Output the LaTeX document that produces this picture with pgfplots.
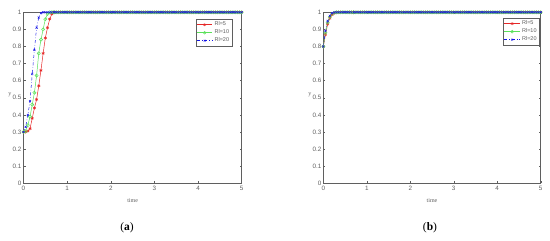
\documentclass[border=0pt]{standalone}
\usepackage{pgfplots}
\usepackage{pgfplotstable}
\pgfplotsset{compat=1.18}
\usepackage{fontspec}
\setmainfont{Liberation Serif}
\setsansfont{Liberation Sans}

\pgfplotstableread{
t r g b
0.00 0.300 0.300 0.300
0.05 0.300 0.305 0.330
0.10 0.305 0.340 0.400
0.15 0.320 0.390 0.480
0.20 0.380 0.460 0.640
0.25 0.440 0.530 0.780
0.30 0.490 0.630 0.910
0.35 0.570 0.760 0.970
0.40 0.660 0.840 0.995
0.45 0.760 0.900 1.000
0.50 0.850 0.960 1.000
0.55 0.910 0.990 1.000
0.60 0.960 1.000 1.000
0.65 0.990 1.000 1.000
0.70 1.000 1.000 1.000
}\riseA

\pgfplotstableread{
t r g b
0.00 0.800 0.800 0.800
0.05 0.870 0.880 0.890
0.10 0.930 0.940 0.950
0.15 0.965 0.972 0.980
0.20 0.985 0.990 0.995
0.25 0.995 0.997 0.999
0.30 0.999 1.000 1.000
0.35 1.000 1.000 1.000
0.40 1.000 1.000 1.000
0.45 1.000 1.000 1.000
0.50 1.000 1.000 1.000
0.55 1.000 1.000 1.000
0.60 1.000 1.000 1.000
0.65 1.000 1.000 1.000
0.70 1.000 1.000 1.000
}\riseB

\pgfplotstableread{
t y
0.70 1
0.75 1
0.80 1
0.85 1
0.90 1
0.95 1
1.00 1
1.05 1
1.10 1
1.15 1
1.20 1
1.25 1
1.30 1
1.35 1
1.40 1
1.45 1
1.50 1
1.55 1
1.60 1
1.65 1
1.70 1
1.75 1
1.80 1
1.85 1
1.90 1
1.95 1
2.00 1
2.05 1
2.10 1
2.15 1
2.20 1
2.25 1
2.30 1
2.35 1
2.40 1
2.45 1
2.50 1
2.55 1
2.60 1
2.65 1
2.70 1
2.75 1
2.80 1
2.85 1
2.90 1
2.95 1
3.00 1
3.05 1
3.10 1
3.15 1
3.20 1
3.25 1
3.30 1
3.35 1
3.40 1
3.45 1
3.50 1
3.55 1
3.60 1
3.65 1
3.70 1
3.75 1
3.80 1
3.85 1
3.90 1
3.95 1
4.00 1
4.05 1
4.10 1
4.15 1
4.20 1
4.25 1
4.30 1
4.35 1
4.40 1
4.45 1
4.50 1
4.55 1
4.60 1
4.65 1
4.70 1
4.75 1
4.80 1
4.85 1
4.90 1
4.95 1
5.00 1
}\flat

\definecolor{mred}{RGB}{230,40,40}
\definecolor{mgreen}{RGB}{90,225,90}
\definecolor{mblue}{RGB}{20,20,230}
\definecolor{axgray}{RGB}{95,95,95}

\begin{document}
\begin{tikzpicture}
\useasboundingbox (0pt,0pt) rectangle (550pt,241pt);
\pgfplotsset{
  myax/.style={
    scale only axis, height=171pt,
    xmin=0, xmax=5, ymin=0, ymax=1,
    xtick={0,1,2,3,4,5},
    ytick={0,0.1,0.2,0.3,0.4,0.5,0.6,0.7,0.8,0.9,1},
    yticklabels={0,0.1,0.2,0.3,0.4,0.5,0.6,0.7,0.8,0.9,1},
    tick align=inside, xtick pos=both, ytick pos=both,
    major tick length=2pt,
    every tick/.style={axgray, line width=0.4pt},
    axis line style={axgray, line width=0.5pt},
    tick label style={font=\fontsize{6.3}{7}\sffamily, text=axgray},
    /pgf/number format/assume math mode=true,
    xticklabel style={yshift=1pt},
    yticklabel style={xshift=1.5pt},
    xlabel={time},
    xlabel style={at={(axis description cs:0.5,-0.1)}, anchor=center, font=\fontsize{6}{7}\selectfont, text=axgray},
    ylabel={y},
    ylabel style={at={(axis description cs:-0.062,0.516)}, anchor=center, rotate=-90, font=\fontsize{6}{7}\selectfont, text=axgray},
    legend style={font=\fontsize{5.5}{6}\sffamily, draw=axgray, line width=0.4pt, inner sep=0.8pt, row sep=-1.5pt, text=axgray},
    legend cell align=left,
    legend image post style={scale=0.9},
  },
  rs/.style={mred, line width=0.5pt, mark=asterisk, mark size=1.6pt, mark options={solid}},
  gs/.style={mgreen, line width=0.5pt, mark=o, mark size=1.6pt, mark options={solid}},
  bs/.style={mblue, line width=0.5pt, dash dot, mark=x, mark size=1.4pt, mark options={solid}},
}
\begin{axis}[myax, at={(23.5pt,57.7pt)}, width=218.2pt,
  legend style={at={(axis description cs:0.956,0.961)}, anchor=north east}]
\addplot[rs] table[x=t,y=r] {\riseA};
\addplot[gs] table[x=t,y=g] {\riseA};
\addplot[bs] table[x=t,y=b] {\riseA};
\addplot[rs, forget plot] table[x=t,y=y] {\flat};
\addplot[gs, forget plot] table[x=t,y=y] {\flat};
\addplot[bs, forget plot] table[x=t,y=y] {\flat};
\legend{Rl=5,Rl=10,Rl=20}
\end{axis}
\begin{axis}[myax, at={(323.3pt,57.7pt)}, width=217.4pt,
  legend style={at={(axis description cs:0.995,0.967)}, anchor=north east}]
\addplot[rs] table[x=t,y=r] {\riseB};
\addplot[gs] table[x=t,y=g] {\riseB};
\addplot[bs] table[x=t,y=b] {\riseB};
\addplot[rs, forget plot] table[x=t,y=y] {\flat};
\addplot[gs, forget plot] table[x=t,y=y] {\flat};
\addplot[bs, forget plot] table[x=t,y=y] {\flat};
\legend{Rl=5,Rl=10,Rl=20}
\end{axis}
\node[font=\fontsize{11.5}{13}\selectfont] at (127pt,13pt) {(\textbf{a})};
\node[font=\fontsize{11.5}{13}\selectfont] at (430pt,13pt) {(\textbf{b})};
\end{tikzpicture}
\end{document}
